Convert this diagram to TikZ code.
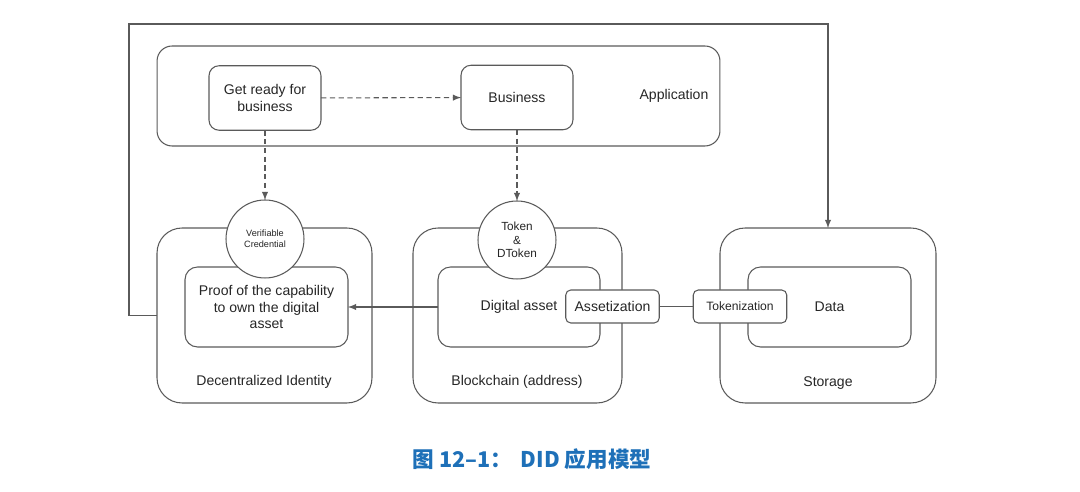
\documentclass[tikz,border=0pt]{standalone}
\usepackage{fontspec}
\setmainfont{Liberation Sans}
\newfontfamily\cjk{Noto Sans CJK SC}
\definecolor{capblue}{RGB}{30,112,184}
\definecolor{edge}{RGB}{90,90,90}

\begin{document}
\begin{tikzpicture}[x=0.02cm, y=-0.02cm, line width=0.6pt, >=latex,
  every node/.style={font=\fontsize{8}{9.6}\selectfont, text=black!85, align=center, outer sep=0pt},
  panel/.style={draw=edge, rounded corners=0.5cm, minimum height=3.5cm},
  inner/.style={draw=edge, rounded corners=0.25cm, minimum width=3.26cm, minimum height=1.6cm},
  card/.style={draw=edge, rounded corners=0.2cm, minimum width=2.24cm, minimum height=1.29cm},
  chip/.style={draw=edge, fill=white, rounded corners=0.1cm, minimum width=1.87cm, minimum height=0.66cm, inner sep=1pt},
  bubble/.style={draw=edge, fill=white, circle, minimum size=1.56cm, inner sep=0pt}]
\useasboundingbox (0,0) rectangle (1080,492);

% top layer
\node[draw=edge, rounded corners=0.3cm, minimum width=11.26cm, minimum height=2cm] (app) at (438.5,96) {};
\node at (674,96) {Application};
\node[card] (ready) at (265,98) {Get ready for\\business};
\node[card] (biz) at (517,97.5) {Business};

% lower blocks
\node[panel, minimum width=4.3cm] (di) at (264.5,315.5) {};
\node[inner] (proof) at (266.5,307) {Proof of the capability\\to own the digital\\asset};
\node at (264,382) {Decentralized Identity};

\node[panel, minimum width=4.18cm] (bc) at (517.5,315.5) {};
\node[inner, minimum width=3.24cm] (asset) at (519,307) {Digital asset};
\node at (517,382) {Blockchain (address)};

\node[panel, minimum width=4.32cm] (st) at (828,315.5) {};
\node[inner] (data) at (829.5,307) {Data};
\node at (828,383) {Storage};

% on top of the borders
\node[bubble, font=\fontsize{5.2}{6.5}\selectfont] (vc) at (265,239) {Verifiable\\Credential};
\node[bubble, font=\fontsize{6.7}{7.8}\selectfont] (tok) at (517,240) {Token\\\&\\DToken};
\node[chip] (assetz) at (612.5,306.5) {Assetization};
\node[chip, font=\fontsize{6.9}{8}\selectfont] (tokz) at (740,306.5) {Tokenization};

% connectors
\coordinate (loopL) at (129,24);
\coordinate (loopR) at (828,24);
\draw[edge, densely dashed, ->] (ready) -- (biz);
\draw[edge, densely dashed, ->] (ready) -- (vc);
\draw[edge, densely dashed, ->] (biz) -- (tok);
\draw[edge, ->] (asset) -- (proof);
\draw[edge] (assetz) -- (tokz);
\draw[edge, ->] (di.west) -| (loopL) -- (loopR) -- (st.north);

\node[text=capblue, font=\cjk\bfseries\fontsize{12.3}{15}\selectfont] (cap) at (532,459) {图 12–1：\hspace{5pt}DID 应用模型};
\end{tikzpicture}
\end{document}
